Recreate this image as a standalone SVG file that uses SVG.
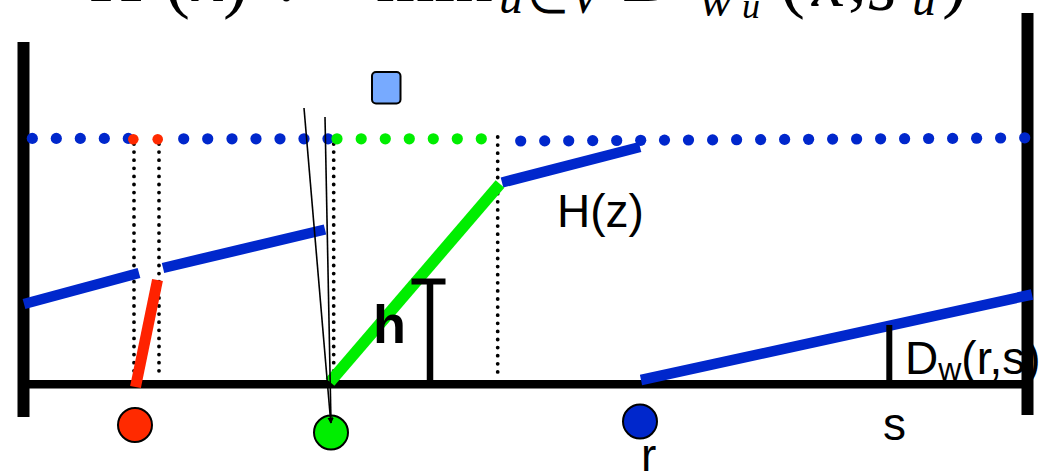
<svg xmlns="http://www.w3.org/2000/svg" width="1048" height="472" viewBox="0 0 1048 472">
<defs>
<style>
.bar{stroke:#000;stroke-width:12;fill:none}
.blue{stroke:#0027cc;stroke-width:10.5;fill:none}
.vdot{stroke:#000;stroke-width:3.8;stroke-linecap:round;stroke-dasharray:0 8.1;fill:none}
.thin{stroke:#000;stroke-width:1.6;fill:none}
.lbl{font-family:"Liberation Sans",Arial,sans-serif;fill:#000}
.fm{font-family:"Liberation Serif","Times New Roman",serif;font-style:italic;fill:#000}
.fn{font-family:"Liberation Serif","Times New Roman",serif;fill:#000}
.bd{fill:#0027cc}
.rd{fill:#ff2a00}
.gd{fill:#00ee00}
.node{stroke:#000;stroke-width:2}
</style>
<marker id="ah" viewBox="0 0 10 10" refX="9" refY="5" markerWidth="6" markerHeight="6" orient="auto" markerUnits="userSpaceOnUse">
<path d="M0,0 L10,5 L0,10 z" fill="#000"/>
</marker>
</defs>
<rect width="1048" height="472" fill="#fff"/>

<g id="formula">
<text class="fm" font-size="75"><tspan x="92" y="1">H</tspan></text>
<text class="fn" font-size="75"><tspan x="165" y="4">(</tspan></text>
<text class="fm" font-size="75"><tspan x="192" y="1">x</tspan></text>
<text class="fn" font-size="75"><tspan x="223" y="4">)</tspan><tspan x="276" y="1">:=</tspan></text>
<text class="fn" font-size="75"><tspan x="376" y="1">min</tspan></text>
<text class="fm" font-size="48"><tspan x="499" y="13">u</tspan></text>
<text class="fn" font-size="48"><tspan x="527" y="13">∈</tspan></text>
<text class="fm" font-size="48"><tspan x="570" y="13">V</tspan></text>
<text class="fm" font-size="75"><tspan x="625" y="1">D</tspan></text>
<text class="fm" font-size="48"><tspan x="700" y="16">w</tspan></text>
<text class="fm" font-size="36"><tspan x="742" y="18">u</tspan></text>
<text class="fn" font-size="75"><tspan x="780" y="4">(</tspan></text>
<text class="fm" font-size="75"><tspan x="812" y="6">x</tspan></text>
<text class="fn" font-size="75"><tspan x="848" y="2">,</tspan></text>
<text class="fm" font-size="75"><tspan x="868" y="10">s</tspan></text>
<text class="fm" font-size="48"><tspan x="912" y="15">u</tspan></text>
<text class="fn" font-size="75"><tspan x="942" y="4">)</tspan></text>
</g>

<g id="walls">
<line class="bar" x1="23.5" y1="42" x2="23.5" y2="417"/>
<line class="bar" x1="1027.5" y1="13" x2="1027.5" y2="415"/>
<line x1="28" y1="384.3" x2="1028" y2="384.3" stroke="#000" stroke-width="8.5"/>
</g>

<g id="dotted-lines">
<line class="vdot" x1="134" y1="144" x2="134" y2="377"/>
<line class="vdot" x1="159" y1="144" x2="159" y2="377"/>
<line class="vdot" x1="333.7" y1="144" x2="333.7" y2="381"/>
<line class="vdot" x1="497.7" y1="137" x2="497.7" y2="375"/>
</g>

<g id="dot-row">
<g class="bd">
<circle cx="32.3" cy="138.4" r="5.6"/><circle cx="56.3" cy="138.4" r="5.6"/><circle cx="80.3" cy="138.4" r="5.6"/><circle cx="104.3" cy="138.4" r="5.6"/><circle cx="128.3" cy="138.4" r="5.6"/>
<circle cx="183.7" cy="138.8" r="5.6"/><circle cx="207.7" cy="138.8" r="5.6"/><circle cx="232" cy="138.8" r="5.6"/><circle cx="256" cy="138.8" r="5.6"/><circle cx="280" cy="138.8" r="5.6"/><circle cx="304" cy="138.8" r="5.6"/><circle cx="328" cy="138.8" r="5.6"/>
<circle cx="520.7" cy="141" r="5.6"/><circle cx="544.7" cy="140.9" r="5.6"/><circle cx="568.7" cy="140.8" r="5.6"/><circle cx="592.7" cy="140.6" r="5.6"/><circle cx="616.7" cy="140.5" r="5.6"/><circle cx="640.7" cy="140.3" r="5.6"/><circle cx="664.5" cy="140.1" r="5.6"/><circle cx="688.5" cy="140" r="5.6"/><circle cx="712.6" cy="139.9" r="5.6"/><circle cx="736.6" cy="139.7" r="5.6"/><circle cx="760.6" cy="139.6" r="5.6"/><circle cx="784.6" cy="139.4" r="5.6"/><circle cx="808.6" cy="139.3" r="5.6"/><circle cx="832.6" cy="139.1" r="5.6"/><circle cx="856.6" cy="139" r="5.6"/><circle cx="880.6" cy="138.8" r="5.6"/><circle cx="904.6" cy="138.7" r="5.6"/><circle cx="928.6" cy="138.5" r="5.6"/><circle cx="952.6" cy="138.4" r="5.6"/><circle cx="976.6" cy="138.2" r="5.6"/><circle cx="1000.6" cy="138" r="5.6"/><circle cx="1024.7" cy="137.8" r="5.6"/>
</g>
<g class="rd">
<circle cx="133.3" cy="139.3" r="5.3"/><circle cx="157.7" cy="139.3" r="5.3"/>
</g>
<g class="gd">
<circle cx="337" cy="138.8" r="5.6"/><circle cx="361.2" cy="138.8" r="5.6"/><circle cx="385.3" cy="138.8" r="5.6"/><circle cx="409.3" cy="138.8" r="5.6"/><circle cx="433.3" cy="138.8" r="5.6"/><circle cx="457.3" cy="138.8" r="5.6"/><circle cx="481.3" cy="138.8" r="5.6"/>
</g>
</g>

<g id="envelope">
<line class="blue" x1="24" y1="304" x2="139" y2="273"/>
<line class="blue" x1="163" y1="268" x2="325" y2="229.5"/>
<line class="blue" x1="502" y1="182.5" x2="640" y2="147"/>
<line class="blue" x1="641" y1="380" x2="1032" y2="294.5"/>
<line x1="330" y1="382" x2="500" y2="184" stroke="#00ee00" stroke-width="11.5"/>
<line x1="135.5" y1="387" x2="157.5" y2="280" stroke="#ff2200" stroke-width="11"/>
</g>

<g id="node-square">
<rect x="372" y="72" width="28.5" height="31.5" rx="4" fill="#77aaff" stroke="#000" stroke-width="2"/>
</g>
<g id="node-red"><circle class="node rd" cx="135" cy="425" r="17"/></g>
<g id="node-green"><circle class="node gd" cx="331" cy="432.5" r="17"/></g>
<g id="node-blue"><circle class="node bd" cx="640" cy="421.5" r="17"/></g>

<g id="connectors">
<line class="thin" x1="304" y1="108" x2="330.8" y2="423" marker-end="url(#ah)"/>
<line class="thin" x1="325" y1="117" x2="331" y2="423" marker-end="url(#ah)"/>
</g>

<g id="h-marker">
<line x1="430" y1="279" x2="430" y2="382" stroke="#000" stroke-width="6.5"/>
<line x1="411.5" y1="281.5" x2="445.5" y2="281.5" stroke="#000" stroke-width="6"/>
<text class="lbl" x="373" y="343" font-size="54" font-weight="bold">h</text>
</g>

<g id="d-marker">
<line x1="889.3" y1="325" x2="889.3" y2="382" stroke="#000" stroke-width="6"/>
<text class="lbl" x="905" y="373.5" font-size="46">D<tspan font-size="32" dy="6">w</tspan><tspan dy="-6">(r,s)</tspan></text>
</g>

<g id="labels">
<text class="lbl" x="557" y="227" font-size="46">H(z)</text>
<text class="lbl" x="883" y="440" font-size="46">s</text>
<text class="lbl" x="641" y="471" font-size="46">r</text>
</g>
</svg>
